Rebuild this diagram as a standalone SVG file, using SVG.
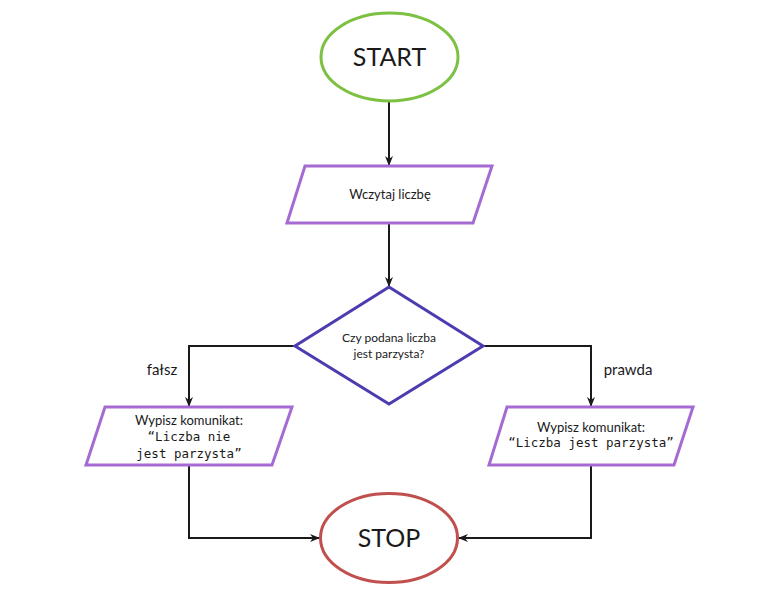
<svg xmlns="http://www.w3.org/2000/svg" width="776" height="600" viewBox="0 0 776 600">
<defs>
<marker id="ah" markerWidth="10" markerHeight="10" refX="9" refY="5" orient="auto" markerUnits="userSpaceOnUse">
<path d="M0,1 L10,5 L0,9 L3,5 Z" fill="#1a1a1a"/>
</marker>
<style>
.lbl{font-family:Lato,"Noto Sans","Liberation Sans",sans-serif;fill:#1a1a1a;text-anchor:middle}
.mono{font-family:"DejaVu Sans Mono","Liberation Mono",monospace;fill:#1a1a1a;text-anchor:middle;font-size:12.5px}
.io{fill:#fff;stroke:#a66bd3;stroke-width:3}
.con{fill:none;stroke:#1a1a1a;stroke-width:2;marker-end:url(#ah)}
</style>
</defs>
<rect width="776" height="600" fill="#fff"/>
<g id="connectors">
<path class="con" d="M389,101 L389,165"/>
<path class="con" d="M389,223 L389,286"/>
<path class="con" d="M295,346 L189,346 L189,406"/>
<path class="con" d="M483,346 L591,346 L591,406"/>
<path class="con" d="M189,465 L189,538 L319,538"/>
<path class="con" d="M591,465 L591,538 L459,538"/>
<text class="lbl" x="162" y="375" font-size="15">fałsz</text>
<text class="lbl" x="628" y="375" font-size="15">prawda</text>
</g>
<g id="start">
<ellipse cx="389.5" cy="57" rx="68.5" ry="44" fill="#fff" stroke="#7dc142" stroke-width="3"/>
<text class="lbl" x="389.5" y="66" font-size="25">START</text>
</g>
<g id="input">
<polygon class="io" points="305,166 492,166 473,223 287,223"/>
<text class="lbl" x="390" y="199" font-size="13">Wczytaj liczbę</text>
</g>
<g id="decision">
<polygon points="389,287 483,346 389,404 295,346" fill="#fff" stroke="#4b3cb0" stroke-width="3"/>
<text class="lbl" x="389" y="342" font-size="12">Czy podana liczba</text>
<text class="lbl" x="389" y="358" font-size="12">jest parzysta?</text>
</g>
<g id="out-false">
<polygon class="io" points="105,407 292,407 272,465 86,465"/>
<text class="lbl" x="189" y="425" font-size="13">Wypisz komunikat:</text>
<text class="mono" x="189" y="441">“Liczba nie</text>
<text class="mono" x="189" y="458">jest parzysta”</text>
</g>
<g id="out-true">
<polygon class="io" points="507,407 693,407 674,465 489,465"/>
<text class="lbl" x="591" y="432" font-size="13">Wypisz komunikat:</text>
<text class="mono" x="591" y="447">“Liczba jest parzysta”</text>
</g>
<g id="stop">
<ellipse cx="389" cy="538" rx="68.5" ry="44.5" fill="#fff" stroke="#c0504d" stroke-width="3"/>
<text class="lbl" x="389" y="547" font-size="25">STOP</text>
</g>
</svg>
